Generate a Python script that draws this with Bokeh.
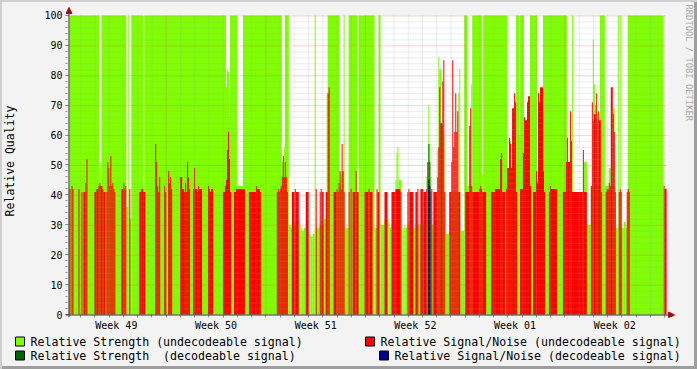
import math
from bokeh.plotting import figure
from bokeh.layouts import column
from bokeh.models import (Range1d, FixedTicker, CustomJSTickFormatter, Arrow, NormalHead, Label)
from bokeh.core.properties import value
from bokeh.embed import file_html
from bokeh.resources import INLINE

# ---- time base: one consolidated sample = 0.07 day (1.68 h), 42 days shown ----
STEP_DAYS = 0.07
N_SAMPLES = 599
SPAN_DAYS = 42.0
WEEK_START = 6.79          # day offset where week 50 begins

week_labels = ["Week 49", "Week 50", "Week 51", "Week 52", "Week 01", "Week 02"]

# ---- Relative Strength (undecodeable signal): step series (sample index -> value) ----
strength_t = [0, 30, 31, 32, 57, 59, 60, 62, 74, 75,
              157, 158, 159, 160, 161, 168, 174, 213, 215, 216,
              220, 222, 223, 230, 231, 232, 233, 235, 237, 240,
              242, 244, 246, 247, 251, 255, 258, 259, 271, 273,
              275, 276, 280, 289, 290, 306, 310, 312, 316, 320,
              321, 323, 327, 328, 329, 330, 333, 334, 335, 336,
              337, 339, 345, 347, 358, 359, 360, 361, 362, 363,
              369, 370, 371, 373, 375, 376, 377, 381, 390, 391,
              392, 396, 399, 403, 404, 414, 415, 439, 441, 443,
              448, 451, 452, 456, 462, 469, 475, 499, 504, 505,
              516, 519, 523, 525, 526, 527, 529, 532, 537, 541,
              543, 545, 547, 548, 550, 551, 552, 553, 556, 558,
              560, 596]
strength_v = [100, 49, 51, 100, 36, 100, 32, 100, 43, 100,
              76, 82, 81, 66, 100, 43, 100, 51, 56, 100,
              30, 29, 30, 32, 30, 29, 28, 29, 28, 27,
              26, 27, 100, 29, 30, 32, 74, 100, 46, 48,
              100, 29, 100, 41, 100, 29, 100, 30, 32, 31,
              29, 30, 45, 54, 56, 45, 29, 28, 29, 30,
              29, 30, 29, 30, 46, 51, 70, 57, 46, 30,
              55, 86, 82, 63, 60, 41, 27, 41, 74, 82,
              28, 100, 43, 77, 100, 47, 100, 49, 58, 49,
              100, 60, 100, 45, 100, 44, 100, 41, 100, 41,
              51, 30, 43, 92, 77, 70, 43, 100, 43, 49,
              43, 69, 43, 29, 100, 29, 100, 29, 31, 29,
              100, 0]

# ---- Relative Signal/Noise (undecodeable signal) ----
snr_t = [0, 1, 2, 3, 4, 9, 10, 12, 13, 14,
         16, 17, 18, 25, 27, 29, 30, 31, 33, 34,
         36, 37, 38, 39, 40, 41, 42, 43, 44, 45,
         46, 52, 54, 55, 56, 57, 60, 61, 70, 72,
         74, 76, 86, 87, 88, 89, 90, 91, 95, 96,
         97, 99, 100, 101, 102, 103, 111, 113, 115, 116,
         117, 118, 119, 120, 121, 124, 125, 126, 128, 129,
         130, 133, 139, 140, 141, 142, 144, 154, 156, 157,
         158, 159, 160, 161, 162, 165, 167, 176, 180, 187,
         188, 191, 192, 208, 209, 210, 211, 212, 213, 214,
         215, 216, 217, 218, 219, 223, 226, 227, 230, 237,
         240, 247, 248, 251, 252, 253, 255, 257, 259, 260,
         261, 265, 268, 269, 270, 271, 272, 273, 274, 275,
         276, 280, 281, 282, 283, 284, 287, 288, 290, 296,
         300, 301, 304, 308, 309, 311, 316, 319, 323, 327,
         332, 333, 339, 340, 341, 345, 347, 349, 350, 352,
         355, 358, 359, 360, 362, 363, 364, 365, 369, 370,
         371, 372, 374, 375, 376, 377, 381, 383, 384, 385,
         386, 387, 388, 389, 390, 392, 397, 401, 402, 403,
         404, 411, 412, 413, 414, 418, 423, 427, 432, 433,
         434, 437, 438, 439, 441, 442, 443, 444, 446, 447,
         448, 449, 452, 455, 456, 457, 459, 460, 462, 463,
         465, 468, 469, 470, 471, 472, 475, 476, 477, 481,
         482, 483, 489, 495, 498, 499, 500, 502, 503, 504,
         515, 516, 519, 523, 524, 525, 526, 528, 529, 530,
         531, 533, 534, 538, 539, 541, 542, 543, 545, 546,
         547, 548, 551, 552, 553, 554, 559, 560, 561, 562,
         596, 597]
snr_v = [42, 0, 43, 42, 0, 42, 0, 41, 0, 41,
         44, 52, 0, 41, 42, 43, 44, 43, 42, 41,
         0, 41, 51, 49, 43, 53, 43, 44, 42, 41,
         0, 42, 44, 42, 43, 0, 42, 0, 41, 42,
         41, 0, 57, 51, 43, 41, 46, 0, 43, 41,
         0, 48, 44, 46, 42, 0, 46, 42, 41, 44,
         41, 51, 46, 42, 0, 42, 49, 42, 41, 43,
         42, 0, 43, 42, 41, 42, 0, 41, 43, 45,
         55, 61, 52, 41, 0, 41, 42, 0, 41, 43,
         42, 41, 0, 41, 42, 41, 42, 43, 46, 53,
         46, 51, 46, 41, 0, 41, 42, 41, 0, 41,
         0, 42, 0, 41, 42, 41, 0, 41, 74, 76,
         0, 41, 42, 41, 44, 48, 42, 57, 48, 41,
         0, 41, 0, 42, 0, 41, 48, 41, 0, 41,
         42, 41, 0, 42, 41, 0, 41, 0, 41, 42,
         41, 0, 41, 42, 41, 0, 41, 42, 0, 42,
         41, 42, 51, 0, 41, 42, 0, 41, 46, 56,
         76, 64, 78, 85, 41, 0, 41, 51, 85, 56,
         61, 74, 61, 68, 41, 0, 41, 63, 69, 43,
         41, 42, 43, 42, 41, 0, 41, 42, 52, 54,
         41, 0, 42, 49, 59, 57, 49, 69, 74, 71,
         41, 0, 42, 54, 66, 65, 71, 73, 43, 0,
         41, 48, 44, 74, 71, 76, 48, 41, 0, 41,
         43, 42, 0, 41, 51, 59, 51, 68, 58, 41,
         55, 41, 0, 43, 71, 65, 67, 74, 65, 68,
         65, 41, 0, 41, 42, 44, 43, 76, 67, 61,
         41, 0, 41, 42, 41, 0, 41, 42, 41, 0,
         43, 42]

# ---- decodeable signal (only one short burst) ----
dec_strength_t = [360, 361, 362]
dec_strength_v = [57, 51, 0]
dec_snr_t = [360, 361, 362]
dec_snr_v = [45, 43, 0]

# (a no-break space keeps the double space of the original legend in SVG)
legend_labels = ["Relative Strength (undecodeable signal)",
                 "Relative Signal/Noise (undecodeable signal)",
                 "Relative Strength \u00a0(decodeable signal)",
                 "Relative Signal/Noise (decodeable signal)"]

GREEN = "#7FFF00"
RED = "#FF0000"
DKGREEN = "#006400"
BLUE = "#000090"
legend_colors = [GREEN, RED, DKGREEN, BLUE]
FONT = "DejaVu Sans Mono"
BACK = "#f3f3f3"

assert len(strength_t) == len(strength_v)
assert len(snr_t) == len(snr_v)


def to_quads(ts, vs):
    left, right, top = [], [], []
    for i, (t, v) in enumerate(zip(ts, vs)):
        t2 = ts[i + 1] if i + 1 < len(ts) else N_SAMPLES
        if v > 0:
            left.append(t * STEP_DAYS)
            right.append(t2 * STEP_DAYS)
            top.append(v)
    return dict(left=left, right=right, top=top, bottom=[0] * len(top))


# pixel sizes of one unit (frame: 600 px for 42 days, 300 px for 100 units)
PX_X = SPAN_DAYS / 600.0
PX_Y = 100.0 / 300.0

MAIN_H = 333
p = figure(width=697, height=MAIN_H,
           x_range=Range1d(-4 * PX_X, SPAN_DAYS + 30 * PX_X),
           y_range=Range1d(-3 * PX_Y, 100 + 11 * PX_Y),
           output_backend="svg", toolbar_location=None,
           min_border_left=63, min_border_right=0, min_border_top=4, min_border_bottom=15,
           background_fill_alpha=0, border_fill_alpha=0)
p.outline_line_color = None
p.grid.visible = False

# white canvas of the graph area
p.quad(left=[0], right=[SPAN_DAYS], bottom=[0], top=[100], fill_color="white",
       line_color=None, level="underlay")

for ts, vs, col in [(strength_t, strength_v, GREEN), (snr_t, snr_v, RED),
                    (dec_strength_t, dec_strength_v, DKGREEN), (dec_snr_t, dec_snr_v, BLUE)]:
    q = to_quads(ts, vs)
    p.quad(left=q["left"], right=q["right"], top=q["top"], bottom=q["bottom"],
           fill_color=col, line_color=None)

# ---- grid (drawn over the data, rrdtool style, limited to the graph area) ----
week_bounds = [WEEK_START + 7 * k for k in range(6)]
day_ticks = [WEEK_START - 6 + k for k in range(42)]
week_centers = [WEEK_START - 3.5 + 7 * k for k in range(6)]
minor_y = [v for v in range(2, 100, 2) if v % 10]
major_y = list(range(10, 101, 10))

MINOR_COL, MINOR_ALPHA = "#a0a0a0", 0.4
MAJOR_COL, MAJOR_ALPHA = "#e05050", 0.5
days_only = [d for d in day_ticks if all(abs(d - w) > 1e-6 for w in week_bounds)]
p.segment(x0=days_only, x1=days_only, y0=[0] * len(days_only), y1=[100] * len(days_only),
          line_color=MINOR_COL, line_alpha=MINOR_ALPHA, line_dash="1 1", line_width=1, level="overlay")
p.segment(x0=[0] * len(minor_y), x1=[SPAN_DAYS] * len(minor_y),
          y0=[v - 0.5 * PX_Y for v in minor_y], y1=[v - 0.5 * PX_Y for v in minor_y],
          line_color=MINOR_COL, line_alpha=MINOR_ALPHA, line_dash="1 1", line_width=1, level="overlay")
p.segment(x0=week_bounds, x1=week_bounds, y0=[0] * 6, y1=[100] * 6,
          line_color=MAJOR_COL, line_alpha=MAJOR_ALPHA, line_dash="1 1", line_width=1, level="overlay")
p.segment(x0=[0] * len(major_y), x1=[SPAN_DAYS] * len(major_y),
          y0=[v - 0.5 * PX_Y for v in major_y], y1=[v - 0.5 * PX_Y for v in major_y],
          line_color=MAJOR_COL, line_alpha=MAJOR_ALPHA, line_dash="1 1", line_width=1, level="overlay")

# ---- axes ----
AXIS_COL = "#303040"
xa = p.xaxis[0]
xa.bounds = (0, SPAN_DAYS)
xa.ticker = FixedTicker(ticks=week_centers, minor_ticks=day_ticks)
xa.formatter = CustomJSTickFormatter(args=dict(labels=week_labels), code="return labels[index]")
xa.axis_line_color = None
xa.major_tick_line_color = None
xa.major_tick_out = 0
xa.major_tick_in = 0
xa.minor_tick_line_color = "#909090"
xa.minor_tick_out = 0
xa.minor_tick_in = 3
xa.major_label_standoff = 2
xa.major_label_text_font = FONT
xa.major_label_text_font_size = "10px"
xa.major_label_text_color = "black"

ya = p.yaxis[0]
ya.bounds = (0, 100)
ya.ticker = FixedTicker(ticks=list(range(0, 101, 10)), minor_ticks=list(range(0, 101, 2)))
ya.axis_line_color = None
ya.major_tick_line_color = "#707070"
ya.major_tick_out = 0
ya.major_tick_in = 3
ya.minor_tick_line_color = "#909090"
ya.minor_tick_out = 0
ya.minor_tick_in = 2
ya.major_label_standoff = 3
ya.major_label_text_font = FONT
ya.major_label_text_font_size = "10px"
ya.major_label_text_color = "black"
ya.axis_label = "Relative Quality"
ya.axis_label_text_font = FONT
ya.axis_label_text_font_size = "11.5px"
ya.axis_label_text_font_style = "normal"
ya.axis_label_text_color = "black"
ya.axis_label_standoff = 24

# axis lines with arrow heads
ARROW_COL = "#a01010"
p.add_layout(Arrow(end=NormalHead(size=6, fill_color=ARROW_COL, line_color=ARROW_COL),
                   x_start=-4 * PX_X, y_start=-0.5 * PX_Y, x_end=SPAN_DAYS + 7 * PX_X, y_end=-0.5 * PX_Y,
                   line_color=AXIS_COL, line_width=1))
p.add_layout(Arrow(end=NormalHead(size=6, fill_color=ARROW_COL, line_color=ARROW_COL),
                   x_start=-0.5 * PX_X, y_start=-3 * PX_Y, x_end=-0.5 * PX_X, y_end=100 + 8 * PX_Y,
                   line_color=AXIS_COL, line_width=1))

# ---- watermark (inside the extended frame, right margin) ----
p.add_layout(Label(x=623, y=313, x_units="screen", y_units="screen",
                   text="RRDTOOL / TOBI OETIKER", angle=-math.pi / 2,
                   text_font=FONT, text_font_size="8.8px", text_color="#a8a8a8",
                   text_align="left", text_baseline="middle"))

# ---- legend strip (rrdtool style, two columns) ----
LEG_H = 369 - MAIN_H
leg = figure(width=697, height=LEG_H, x_range=Range1d(0, 697), y_range=Range1d(LEG_H, 0),
             output_backend="svg", toolbar_location=None, x_axis_type=None, y_axis_type=None,
             min_border_left=0, min_border_right=0, min_border_top=0, min_border_bottom=0,
             background_fill_alpha=0, border_fill_alpha=0)
leg.outline_line_color = None
sw_x = [15, 365, 15, 379]          # swatch left edges
row_y = [8, 8, 22, 22]             # row centres
leg.rect(x=[x + 4.5 for x in sw_x], y=row_y, width=9, height=9,
         fill_color=legend_colors, line_color="black", line_width=1)
leg.text(x=[x + 15 for x in sw_x], y=row_y, text=legend_labels,
         text_font=value(FONT), text_font_size=value("11.6px"), text_color="black",
         text_align="left", text_baseline="middle")

for fig in (p, leg):
    if "frame_align" in fig.properties():
        fig.frame_align = False

layout = column(p, leg, spacing=0,
                styles={"background-color": BACK,
                        "box-shadow": "inset 2px 2px 0 #cfcfcf, inset -3px -3px 0 #9e9e9e"})

open("out.html", "w").write(file_html(layout, INLINE))
